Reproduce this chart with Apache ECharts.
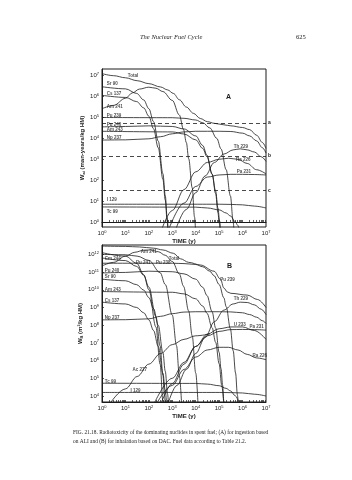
<!DOCTYPE html>
<html>
<head>
<meta charset="utf-8">
<script src="https://cdn.jsdelivr.net/npm/echarts@6/dist/echarts.min.js"></script>
<style>
html, body { margin: 0; padding: 0; background: #fff; }
#main { width: 352px; height: 480px; }
</style>
</head>
<body>
<div id="main"></div>
<script>
// all points are [log10(time, y), log10(value)]
var decadesX = [0, 1, 2, 3, 4, 5, 6, 7];
var decadesA = [0, 1, 2, 3, 4, 5, 6, 7];
var decadesB = [4, 5, 6, 7, 8, 9, 10, 11, 12];

// (A) ingestion, man-years/kg HM
var totalA = [[0,7.1],[0.5,7.0],[1,6.9],[1.5,6.76],[2,6.62],[2.5,6.46],[2.8,6.32],[3.05,6.15],[3.3,5.85],[3.6,5.5],[3.9,5.2],[4.2,4.95],[4.5,4.8],[4.8,4.72],[5.2,4.65],[5.5,4.6],[6,4.52],[6.3,4.42],[6.6,4.15],[6.85,3.8],[7,3.52]];
var sr90A = [[0,6.47],[1,6.37],[1.48,6.15],[1.78,5.84],[2,5.42],[2.2,4.8],[2.4,3.87],[2.6,2.31],[2.7,1.27],[2.78,0.23],[2.82,-0.35]];
var cs137A = [[0,6.06],[1,5.96],[1.48,5.76],[1.78,5.46],[2,5.06],[2.2,4.46],[2.4,3.55],[2.6,2.05],[2.7,1.05],[2.78,0.05],[2.81,-0.35]];
var am241A = [[0,5.42],[0.5,5.58],[1,5.92],[1.3,6.18],[1.6,6.36],[2,6.45],[2.3,6.4],[2.6,6.24],[3,5.82],[3.3,5.12],[3.48,4.42],[3.6,3.8],[3.7,3.03],[3.85,1.64],[3.95,0.24],[3.99,-0.35]];
var pu239A = [[0,5.0],[3,4.99],[3.5,4.96],[4,4.88],[4.3,4.75],[4.6,4.5],[4.9,4.0],[5.08,3.5],[5.3,2.5],[5.48,1.25],[5.6,0.0],[5.63,-0.35]];
var pu240A = [[0,4.55],[1,4.57],[2,4.6],[3,4.57],[3.5,4.45],[4,4.12],[4.3,3.66],[4.48,3.2],[4.7,2.28],[4.85,1.36],[4.95,0.44],[5.0,0.0],[5.03,-0.35]];
var am243A = [[0,4.34],[3,4.31],[3.5,4.21],[4,3.93],[4.3,3.52],[4.48,3.12],[4.7,2.3],[4.85,1.48],[4.95,0.66],[5.02,0.05],[5.06,-0.35]];
var np237A = [[0,3.92],[1,3.93],[2,3.98],[2.5,4.08],[3,4.22],[3.5,4.31],[4,4.34],[5,4.34],[5.5,4.33],[6,4.25],[6.3,4.12],[6.6,3.88],[6.85,3.55],[7,3.3]];
var th229A = [[3.15,-0.35],[3.6,0.6],[4,1.4],[4.4,2.2],[4.8,2.85],[5.2,3.25],[5.6,3.45],[5.9,3.5],[6.2,3.45],[6.5,3.35],[6.8,3.12],[7,2.9]];
var ra226A = [[2.55,-0.35],[3,0.55],[3.5,1.55],[4,2.4],[4.5,2.85],[5,3.0],[5.4,3.05],[5.8,3.0],[6.2,2.8],[6.6,2.5],[7,2.3]];
var pa231A = [[2.85,-0.35],[3.5,0.9],[4,1.7],[4.5,2.15],[5,2.25],[5.5,2.28],[6,2.28],[6.5,2.27],[7,2.25]];
var i129A = [[0,0.85],[5,0.85],[5.5,0.84],[6,0.82],[6.5,0.76],[7,0.67]];
var tc99A = [[0,0.72],[4,0.71],[4.5,0.67],[5,0.58],[5.3,0.43],[5.48,0.29],[5.7,0.0],[5.78,-0.14],[5.86,-0.35]];
var levelsA = [['a', 4.74], ['b', 3.16], ['c', 1.5]];

// (B) inhalation, m3/kg HM
var totalB = [[0,12.47],[1,12.45],[1.6,12.42],[2.2,12.35],[2.6,12.25],[3.05,12.06],[3.35,11.75],[3.7,11.55],[4.2,11.4],[4.78,11.05],[5.06,10.6],[5.2,10.1],[5.35,9.88],[5.5,9.8],[6.2,9.7],[6.64,9.45],[7,9.0]];
var cm244B = [[0,11.8],[1,11.65],[1.48,11.32],[1.78,10.82],[2,10.15],[2.3,8.49],[2.48,6.83],[2.6,5.17],[2.67,4.0],[2.7,3.5]];
var pu241B = [[0,12.1],[1,11.9],[1.48,11.5],[1.78,10.86],[2,10.0],[2.3,7.9],[2.48,5.8],[2.6,3.7],[2.61,3.5]];
var am241B = [[0,11.35],[0.5,11.55],[1,11.9],[1.4,12.12],[1.8,12.24],[2.1,12.25],[2.4,12.15],[2.7,11.95],[3,11.6],[3.3,10.9],[3.48,10.2],[3.7,8.8],[3.85,7.4],[4,5.3],[4.1,3.5]];
var pu238B = [[0,12.0],[1,11.98],[1.5,11.9],[2,11.66],[2.48,10.97],[2.7,10.3],[3,8.57],[3.18,6.85],[3.3,5.14],[3.4,3.5]];
var pu239B = [[0,11.5],[3,11.5],[3.5,11.48],[4,11.43],[4.3,11.3],[4.6,11.05],[4.78,10.8],[5,10.3],[5.2,9.55],[5.3,9.05],[5.48,7.8],[5.6,6.55],[5.7,5.3],[5.78,4.05],[5.82,3.5]];
var pu240B = [[0,10.95],[1,10.98],[2,11.05],[3,11.02],[3.5,10.9],[4,10.6],[4.3,10.14],[4.48,9.68],[4.7,8.76],[4.85,7.84],[5,6.46],[5.08,5.54],[5.15,4.6],[5.2,3.7],[5.22,3.5]];
var sr90B = [[0,10.6],[1,10.51],[1.48,10.29],[1.78,9.98],[2,9.56],[2.2,8.94],[2.4,8.0],[2.6,6.45],[2.7,5.4],[2.8,4.1],[2.84,3.5]];
var am243B = [[0,9.9],[3,9.86],[3.5,9.77],[4,9.49],[4.3,9.08],[4.48,8.68],[4.7,7.86],[4.85,7.04],[5,5.82],[5.11,4.6],[5.2,3.5]];
var cs137B = [[0,9.3],[1,9.2],[1.48,9.0],[1.78,8.7],[2,8.3],[2.2,7.7],[2.4,6.8],[2.6,5.3],[2.7,4.3],[2.76,3.5]];
var np237B = [[0,8.3],[1,8.31],[2,8.36],[2.5,8.5],[3,8.65],[3.5,8.74],[4,8.76],[5,8.76],[5.5,8.75],[6,8.7],[6.3,8.6],[6.6,8.45],[6.85,8.25],[7,8.1]];
var th229B = [[2.8,3.5],[3.2,4.6],[3.6,5.5],[4,6.4],[4.4,7.3],[4.8,8.2],[5.2,8.85],[5.6,9.2],[5.9,9.3],[6.2,9.28],[6.5,9.15],[6.8,8.9],[7,8.6]];
var u233B = [[2.5,3.5],[3,4.7],[3.5,5.8],[4,6.8],[4.5,7.5],[5,7.8],[5.5,7.9],[6,7.9],[6.5,7.7],[7,7.2]];
var pa231B = [[2.2,3.5],[3,5.0],[3.5,5.9],[4,6.8],[4.5,7.4],[5,7.65],[5.5,7.75],[6,7.76],[6.5,7.75],[7,7.72]];
var ra226B = [[2.3,3.5],[3,4.6],[3.5,5.5],[4,6.2],[4.5,6.6],[5,6.75],[5.4,6.75],[5.8,6.6],[6.2,6.35],[6.6,6.15],[7,6.05]];
var ac227B = [[0.3,3.5],[1,4.4],[1.5,5.1],[2,5.8],[2.5,6.4],[3,6.9],[3.5,7.2],[4,7.4],[4.6,7.5]];
var tc99B = [[0,4.72],[4,4.71],[4.5,4.67],[5,4.58],[5.3,4.43],[5.48,4.29],[5.7,4.0],[5.85,3.7],[5.9,3.5]];
var i129B = [[0,4.2],[5,4.2],[5.5,4.19],[6,4.17],[6.5,4.1],[7,4.0]];

// curve labels: [text, log t of left edge, log value]
var labelsA = [['Total',1.1,7.0],['Sr 90',0.2,6.6],['Cs 137',0.2,6.12],['Am 241',0.2,5.5],['Pu 239',0.2,5.1],
  ['Pu 240',0.2,4.66],['Am 243',0.2,4.42],['Np 237',0.2,4.02],['I 129',0.2,1.08],['Tc 99',0.2,0.5],
  ['Th 229',5.62,3.58],['Ra 226',5.72,3.0],['Pa 231',5.75,2.4]];
var labelsB = [['Total',2.85,11.75],['Am 241',1.65,12.12],['Cm 244',0.12,11.75],['Pu 241',1.45,11.55],['Pu 238',2.3,11.55],
  ['Pu 240',0.12,11.05],['Sr 90',0.12,10.72],['Am 243',0.12,10.0],['Cs 137',0.12,9.4],['Np 237',0.12,8.42],
  ['Ac 227',1.3,5.5],['Tc 99',0.12,4.8],['I 129',1.22,4.3],['Pu 239',5.05,10.58],['Th 229',5.62,9.5],
  ['U 233',5.62,8.05],['Pa 231',6.3,7.9],['Ra 226',6.42,6.25]];

var seriesA = [totalA, sr90A, cs137A, am241A, pu239A, pu240A, am243A, np237A, th229A, ra226A, pa231A, i129A, tc99A];
var seriesB = [totalB, cm244B, pu241B, am241B, pu238B, pu239B, pu240B, sr90B, am243B, cs137B, np237B, th229B, u233B, pa231B, ra226B, ac227B, tc99B, i129B];

function minorTicks(lo, hi) {
  var v = [];
  for (var d = Math.floor(lo); d < hi; d++) {
    for (var k = 1; k < 10; k++) {
      var p = d + Math.log10(k);
      if (p >= lo && p <= hi) v.push(p);
    }
  }
  return v;
}

var ink = '#1c1c1c';
var sans = 'Liberation Sans';

function xAxisFor(gi) {
  return {
    type: 'value', gridIndex: gi, min: 0, max: 7, interval: 1,
    name: 'TIME (y)', nameLocation: 'middle', nameGap: 11,
    nameTextStyle: { fontFamily: sans, fontSize: 6, fontWeight: 'bold', color: ink },
    axisLine: { lineStyle: { color: ink, width: 1 } },
    axisTick: { inside: true, length: 2, lineStyle: { color: ink, width: 0.7 }, customValues: minorTicks(0, 7) },
    axisLabel: {
      margin: 3, color: ink, fontFamily: sans, fontSize: 6,
      formatter: function (v) { return '10{s|' + Math.round(v) + '}'; },
      rich: { s: { fontSize: 4, verticalAlign: 'top', padding: [0, 0, 3, 0] } }
    },
    splitLine: { show: false }
  };
}

function yAxisFor(gi, lo, hi, majors, title) {
  return {
    type: 'value', gridIndex: gi, min: lo, max: hi,
    name: title, nameLocation: 'middle', nameGap: 11, nameRotate: 90,
    nameTextStyle: { fontFamily: sans, fontSize: 6, fontWeight: 'bold', color: ink,
      rich: { b: { fontSize: 4, fontWeight: 'bold', verticalAlign: 'bottom', padding: [3, 0, 0, 0] } } },
    axisLine: { lineStyle: { color: ink, width: 1 } },
    axisTick: { inside: true, length: 2, lineStyle: { color: ink, width: 0.7 }, customValues: majors },
    axisLabel: {
      margin: 3, color: ink, fontFamily: sans, fontSize: 6, customValues: majors,
      formatter: function (v) { return '10{s|' + Math.round(v) + '}'; },
      rich: { s: { fontSize: 4, verticalAlign: 'top', padding: [0, 0, 3, 0] } }
    },
    splitLine: { show: false }
  };
}

function curves(list, gi) {
  return list.map(function (d) {
    return {
      type: 'line', xAxisIndex: gi, yAxisIndex: gi, data: d,
      showSymbol: false, smooth: 0.35, smoothMonotone: 'x', silent: true,
      lineStyle: { color: ink, width: 0.8 }
    };
  });
}

function labelSeries(list, gi) {
  return {
    type: 'scatter', xAxisIndex: gi, yAxisIndex: gi, symbolSize: 0, silent: true,
    data: list.map(function (l) { return [l[1], l[2], l[0]]; }),
    label: {
      show: true, position: 'right', distance: 0, color: ink,
      fontFamily: sans, fontSize: 4.5, fontWeight: 'bold',
      formatter: function (p) { return p.data[2]; }
    }
  };
}

var myChart = echarts.init(document.getElementById('main'));

var series = [].concat(curves(seriesA, 0), curves(seriesB, 1));
series.push(labelSeries(labelsA, 0));
series.push(labelSeries(labelsB, 1));
// horizontal dashed reference levels in (A)
series.push({
  type: 'line', xAxisIndex: 0, yAxisIndex: 0, data: [], silent: true,
  markLine: {
    symbol: 'none', silent: true,
    lineStyle: { type: [4, 3], color: ink, width: 0.8 },
    label: { position: 'end', distance: 2, fontFamily: sans, fontSize: 5, fontWeight: 'bold', color: ink,
      formatter: function (p) { return p.name; } },
    data: levelsA.map(function (l) { return { name: l[0], yAxis: l[1] }; })
  }
});

var option = {
  animation: false,
  backgroundColor: '#fff',
  grid: [
    { left: 102, top: 69, width: 164, height: 158, show: true, borderColor: ink, borderWidth: 1 },
    { left: 102, top: 245, width: 164, height: 157, show: true, borderColor: ink, borderWidth: 1 }
  ],
  xAxis: [xAxisFor(0), xAxisFor(1)],
  yAxis: [
    yAxisFor(0, -0.24, 7.32, decadesA, 'W{b|ai} (man-years/kg HM)'),
    yAxisFor(1, 3.66, 12.53, decadesB, 'W{b|B} (m³/kg HM)')
  ],
  graphic: [
    { type: 'text', left: 140, top: 34, style: { text: 'The Nuclear Fuel Cycle', font: 'italic 6.5px "Liberation Serif"', fill: ink } },
    { type: 'text', left: 296, top: 34, style: { text: '625', font: '6.5px "Liberation Serif"', fill: ink } },
    { type: 'text', left: 226, top: 94, style: { text: 'A', font: 'bold 7px "Liberation Sans"', fill: ink } },
    { type: 'text', left: 227, top: 263, style: { text: 'B', font: 'bold 7px "Liberation Sans"', fill: ink } },
    { type: 'text', left: 73, top: 430, style: { text: 'FIG. 21.18. Radiotoxicity of the dominating nuclides in spent fuel; (A) for ingestion based', font: '5.4px "Liberation Serif"', fill: ink } },
    { type: 'text', left: 73, top: 439, style: { text: 'on ALI and (B) for inhalation based on DAC. Fuel data according to Table 21.2.', font: '5.4px "Liberation Serif"', fill: ink } }
  ],
  series: series
};

myChart.setOption(option);
</script>
</body>
</html>
